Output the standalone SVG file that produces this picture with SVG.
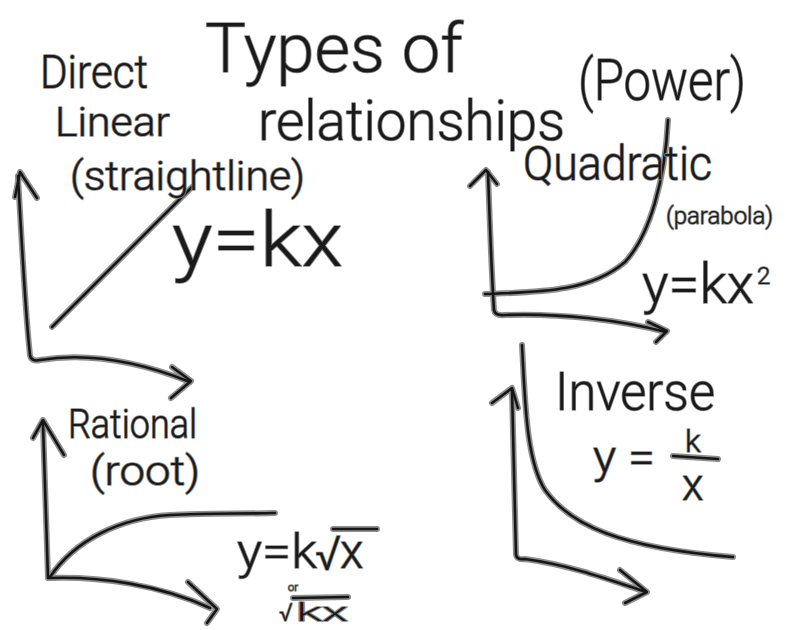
<svg xmlns="http://www.w3.org/2000/svg" xmlns:xlink="http://www.w3.org/1999/xlink" width="786" height="630" viewBox="0 0 786 630">
<style>
.h{fill:none;stroke:#8e8e8e;stroke-width:6;stroke-linecap:round;stroke-linejoin:round}
.k{fill:none;stroke:#161616;stroke-width:2.6;stroke-linecap:round;stroke-linejoin:round}
.t{font-family:Roboto,Lato,"Liberation Sans","DejaVu Sans",sans-serif;font-weight:300;fill:#1a1a1a;stroke:#8e8e8e;stroke-width:1.6;paint-order:stroke;stroke-linejoin:round}
</style>
<defs>
<g id="direct-lines">
<path d="M18,176 C22,250 26,320 30,355 Q31,362 40,360 C90,352 140,362 190,382"/>
<path d="M15,197 L20,172 L37,198"/>
<path d="M172,367 L191,381 L171,398"/>
<path d="M52,327 L192,187"/>
</g>
<g id="quad-lines">
<path d="M470,186 L486,170 L497,184"/>
<path d="M488,172 C490,230 492,280 494,310 Q495,316 505,315 C560,313 620,320 666,332"/>
<path d="M648,322 L667,331 L656,342"/>
<path d="M485,294 C540,292 590,292 625,262 C650,235 665,180 668,120"/>
</g>
<g id="rational-lines">
<path d="M33,438 L43,420 L64,455"/>
<path d="M43,424 L48,578 C100,576 160,585 210,608"/>
<path d="M188,582 L217,609 L207,623"/>
<path d="M50,577 C75,540 120,518 170,515 C210,513 240,514 275,513"/>
<path d="M333,529 L377,529"/>
<path d="M293,598 L348,597"/>
</g>
<g id="inverse-lines">
<path d="M492,403 L512,388 L518,408"/>
<path d="M512,390 L516,555 Q517,560 525,559 C570,565 610,580 646,592"/>
<path d="M620,570 L647,592 L625,603"/>
<path d="M522,345 C525,400 526,460 545,490 C570,525 620,548 733,557"/>
<path d="M673,456 L718,459"/>
</g>
</defs>

<g id="title">
<text class="t" x="205" y="72" font-size="68" textLength="258" lengthAdjust="spacingAndGlyphs">Types of</text>
<text class="t" x="258" y="140" font-size="56" textLength="307" lengthAdjust="spacingAndGlyphs">relationships</text>
<text class="t" x="578" y="100" font-size="58" textLength="168" lengthAdjust="spacingAndGlyphs">(Power)</text>
</g>

<g id="connectors">
<use xlink:href="#direct-lines" class="h"/><use xlink:href="#direct-lines" class="k"/>
<use xlink:href="#quad-lines" class="h"/><use xlink:href="#quad-lines" class="k"/>
<use xlink:href="#rational-lines" class="h"/><use xlink:href="#rational-lines" class="k"/>
<use xlink:href="#inverse-lines" class="h"/><use xlink:href="#inverse-lines" class="k"/>
</g>

<g id="direct">
<text class="t" x="40" y="88" font-size="46" textLength="108" lengthAdjust="spacingAndGlyphs">Direct</text>
<text class="t" x="55" y="136" font-size="40" textLength="115" lengthAdjust="spacingAndGlyphs">Linear</text>
<text class="t" x="70" y="190" font-size="40" textLength="235" lengthAdjust="spacingAndGlyphs">(straightline)</text>
<text class="t" x="172" y="266" font-size="76" textLength="171" lengthAdjust="spacingAndGlyphs">y=kx</text>
</g>

<g id="quadratic">
<text class="t" x="523" y="180" font-size="48" textLength="189" lengthAdjust="spacingAndGlyphs">Quadratic</text>
<text class="t" x="666" y="224" font-size="24">(parabola)</text>
<text class="t" x="642" y="303" font-size="56" textLength="112" lengthAdjust="spacingAndGlyphs">y=kx</text>
<text class="t" x="757" y="284" font-size="24">2</text>
</g>

<g id="rational">
<text class="t" x="68" y="438" font-size="40" textLength="129" lengthAdjust="spacingAndGlyphs">Rational</text>
<text class="t" x="90" y="485" font-size="40" textLength="110" lengthAdjust="spacingAndGlyphs">(root)</text>
<text class="t" x="237" y="568" font-size="48" textLength="80" lengthAdjust="spacingAndGlyphs">y=k</text>
<text class="t" x="315" y="570" font-size="48">√</text>
<text class="t" x="340" y="568" font-size="48">x</text>
<text class="t" x="288" y="591" font-size="11">or</text>
<text class="t" x="279" y="621" font-size="25">√</text>
<text class="t" x="296" y="621" font-size="25" textLength="52" lengthAdjust="spacingAndGlyphs">kx</text>
</g>

<g id="inverse">
<text class="t" x="555" y="410" font-size="54" textLength="160" lengthAdjust="spacingAndGlyphs">Inverse</text>
<text class="t" x="593" y="473" font-size="46" textLength="62" lengthAdjust="spacingAndGlyphs">y =</text>
<text class="t" x="685" y="452" font-size="32">k</text>
<text class="t" x="682" y="500" font-size="44">x</text>
</g>
</svg>
